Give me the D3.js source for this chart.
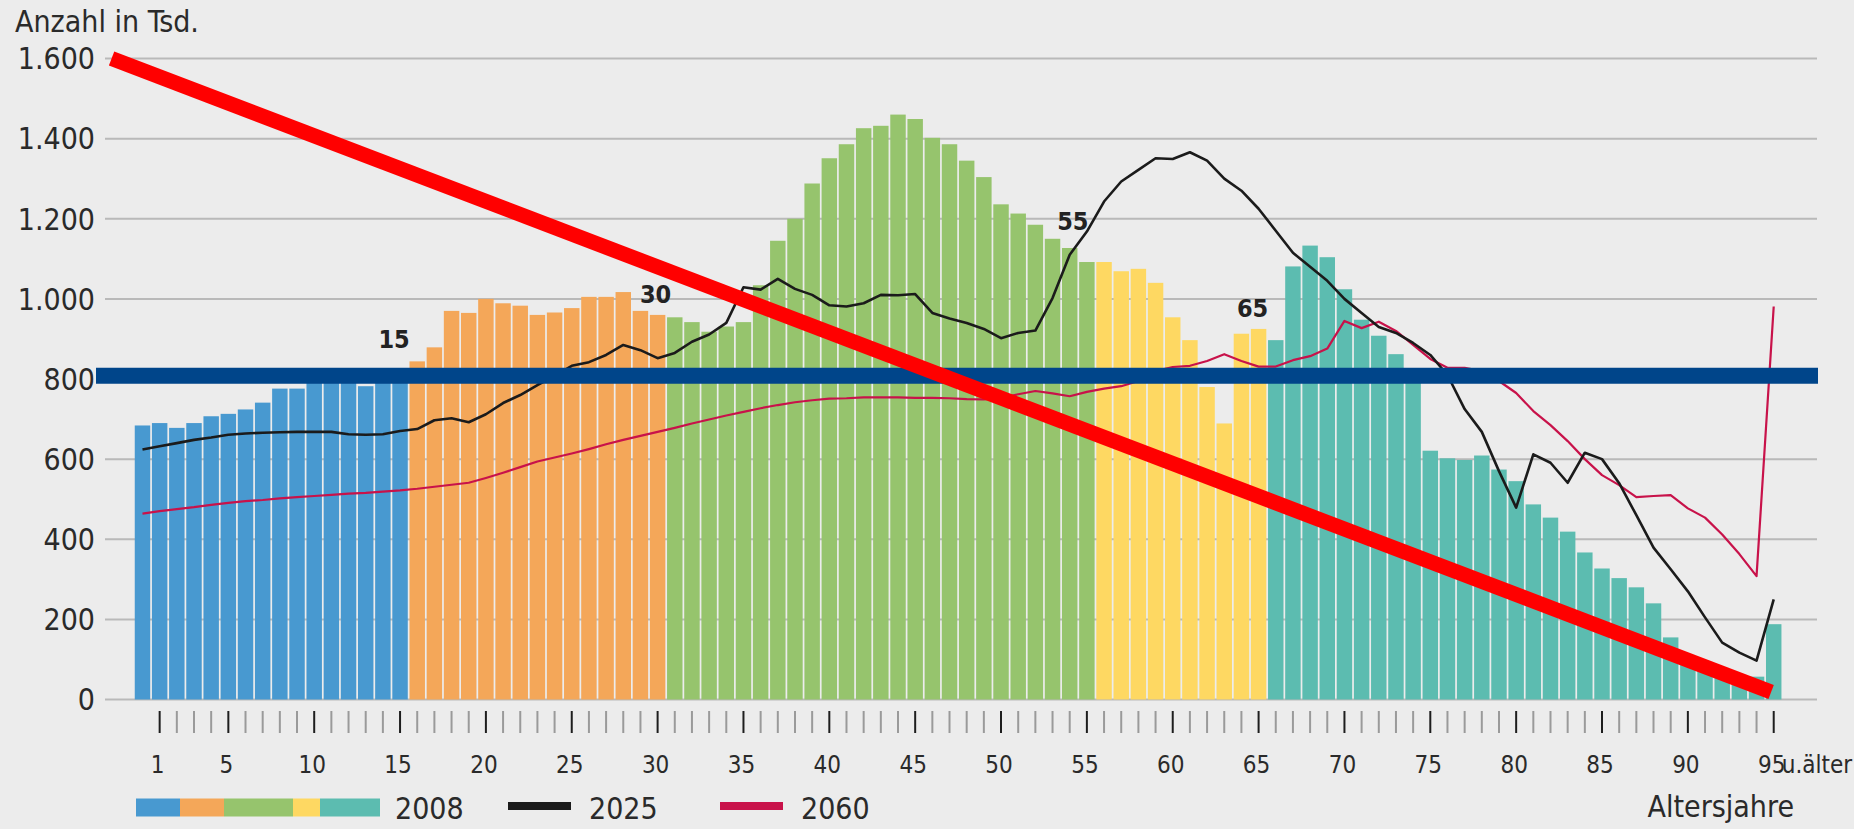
<!DOCTYPE html>
<html>
<head>
<meta charset="utf-8">
<script src="https://cdn.jsdelivr.net/npm/d3@7"></script>
<style>
    body { margin: 0; background: #ececec; }
    svg { display: block; font-family: "DejaVu Sans Condensed", "DejaVu Sans", sans-serif; }
</style>
</head>
<body>
<div id="main_view_panel"></div>
<script>
// age 0 .. 95 (95 = "95 u. älter")
const ages = d3.range(0, 96);

// population 2008 (bars), in thousands
const pop2008 = [684, 690, 678, 690, 707, 713, 724, 741, 776, 776,
    800, 805, 800, 782, 800, 800, 844, 879, 970, 965,
    1000, 989, 983, 960, 966, 977, 1005, 1005, 1017, 970,
    960, 954, 942, 918, 931, 942, 1034, 1145, 1200, 1288,
    1351, 1386, 1426, 1432, 1460, 1449, 1402, 1386, 1345, 1304,
    1236, 1213, 1185, 1150, 1127, 1092, 1092, 1069, 1075, 1040,
    954, 897, 780, 689, 913, 925, 897, 1081, 1133, 1104,
    1024, 948, 908, 862, 805, 621, 602, 598, 609, 574,
    545, 487, 454, 419, 367, 327, 303, 280, 240, 155,
    95, 80, 65, 52, 57, 188];

// projection 2025 (black line)
const pop2025 = [624, 632, 640, 648, 654, 661, 664, 666, 667, 668,
    668, 668, 662, 661, 662, 670, 675, 697, 702, 692,
    712, 740, 760, 785, 808, 833, 842, 860, 885, 872,
    852, 865, 893, 911, 940, 1029, 1023, 1050, 1025, 1010,
    984, 981, 989, 1010, 1009, 1012, 965, 951, 940, 925,
    902, 915, 921, 1002, 1110, 1168, 1243, 1293, 1322, 1351,
    1349, 1366, 1345, 1300, 1270, 1225, 1170, 1115, 1080, 1045,
    1000, 965, 930, 915, 890, 860, 810, 725, 668, 570,
    479, 612, 591, 541, 616, 600, 540, 460, 379, 325,
    270, 205, 142, 117, 97, 250];

// projection 2060 (red line)
const pop2060 = [464, 470, 475, 480, 486, 491, 495, 498, 502, 505,
    508, 511, 514, 516, 519, 522, 526, 531, 536, 541,
    553, 566, 580, 594, 604, 614, 625, 637, 648, 658,
    668, 678, 689, 699, 709, 718, 727, 735, 742, 747,
    751, 752, 754, 754, 754, 753, 753, 752, 750, 749,
    753, 762, 770, 764, 757, 768, 776, 782, 795, 820,
    830, 833, 845, 862, 845, 831, 831, 847, 857, 876,
    945, 927, 943, 920, 885, 850, 828, 828, 820, 795,
    765, 720, 685, 645, 600, 560, 535, 505, 508, 510,
    477, 454, 412, 363, 308, 981];

// age groups of the bars: last age of each group and its colour
const groupEnds = [15, 30, 55, 65, 95];
const groupColors = ["#4899d0", "#f4a759", "#96c46d", "#fed862", "#5cbcb0"];

const yTicks = [0, 200, 400, 600, 800, 1000, 1200, 1400, 1600];
const xLabelAges = [1, 5, 10, 15, 20, 25, 30, 35, 40, 45, 50, 55, 60, 65, 70, 75, 80, 85, 90, 95];

// group markers above the bars
const markerAges = [15, 30, 55, 65];
const markerValues = [877, 989, 1172, 956];
const markerShift = [-6, -2, -14, -6];

// overlay strokes
const blueLevel = 808;
const redStart = [-1.8, 1600];
const redEnd = [94.85, 19];

const width = 1854, height = 829;

const svg = d3.select('#main_view_panel')
    .append('svg')
    .attr('width', width)
    .attr('height', height);

svg.append('rect').attr('width', width).attr('height', height).attr('fill', '#ececec');

//scales
let x_band = d3.scaleBand().domain(ages).range([133.9, 1782.3]).paddingInner(0.1).paddingOuter(0.05);
let x_age = d3.scaleLinear().domain([0, 95]).range([x_band(0) + x_band.bandwidth() / 2, x_band(95) + x_band.bandwidth() / 2]);
let y_axis = d3.scaleLinear().domain([0, 1600]).range([699.5, 58.5]);

const de = d3.formatLocale({ decimal: ",", thousands: ".", grouping: [3], currency: ["", "€"] });
const fmt = de.format(",");

function groupColor(age) {
    for (let i = 0; i < groupEnds.length; i++) {
        if (age <= groupEnds[i]) return groupColors[i];
    }
    return groupColors[groupColors.length - 1];
}

//grid lines + y labels
svg.append('g')
    .selectAll('line')
    .data(yTicks)
    .enter()
    .append('line')
    .attr('x1', 105)
    .attr('x2', 1817)
    .attr('y1', d => y_axis(d))
    .attr('y2', d => y_axis(d))
    .style('stroke', '#b9b9b9')
    .style('stroke-width', 2);

svg.append('g')
    .selectAll('text')
    .data(yTicks)
    .enter()
    .append('text')
    .attr('x', 95)
    .attr('y', d => y_axis(d))
    .attr('dy', '0.36em')
    .attr('text-anchor', 'end')
    .style('font-size', '30px')
    .style('fill', '#2a2a2a')
    .text(d => fmt(d));

svg.append('text')
    .attr('x', 15)
    .attr('y', 32)
    .style('font-size', '30px')
    .style('fill', '#2a2a2a')
    .text('Anzahl in Tsd.');

//bars 2008
svg.append('g')
    .selectAll('rect')
    .data(ages)
    .enter()
    .append('rect')
    .attr('x', d => x_band(d))
    .attr('width', x_band.bandwidth())
    .attr('y', d => y_axis(pop2008[d]))
    .attr('height', d => y_axis(0) - y_axis(pop2008[d]))
    .style('fill', d => groupColor(d));

//lines 2025 / 2060
let line = d3.line().x((d, i) => x_age(ages[i])).y(d => y_axis(d));

svg.append('path')
    .attr('d', line(pop2060))
    .style('fill', 'none')
    .style('stroke', '#c8124a')
    .style('stroke-width', 2.2)
    .style('stroke-linejoin', 'round');

svg.append('path')
    .attr('d', line(pop2025))
    .style('fill', 'none')
    .style('stroke', '#1b1b1b')
    .style('stroke-width', 2.6)
    .style('stroke-linejoin', 'round');

//group markers
svg.append('g')
    .selectAll('text')
    .data(markerAges)
    .enter()
    .append('text')
    .attr('x', (d, i) => x_age(d) + markerShift[i])
    .attr('y', (d, i) => y_axis(markerValues[i]))
    .attr('text-anchor', 'middle')
    .style('font-size', '25px')
    .style('font-weight', 'bold')
    .style('fill', '#222')
    .text(d => d);

//x ticks: one per age from 1, black on the labelled ones
svg.append('g')
    .selectAll('line')
    .data(ages.slice(1))
    .enter()
    .append('line')
    .attr('x1', d => x_age(d))
    .attr('x2', d => x_age(d))
    .attr('y1', 711)
    .attr('y2', 733)
    .style('stroke', d => xLabelAges.includes(d) ? '#1e1e1e' : '#9a9a9a')
    .style('stroke-width', 2);

svg.append('g')
    .selectAll('text')
    .data(xLabelAges)
    .enter()
    .append('text')
    .attr('x', d => x_age(d) - 2)
    .attr('y', 773)
    .attr('text-anchor', 'middle')
    .style('font-size', '24px')
    .style('fill', '#2a2a2a')
    .text(d => d);

svg.append('text')
    .attr('x', x_age(95) + 8)
    .attr('y', 773)
    .style('font-size', '24px')
    .style('fill', '#2a2a2a')
    .text('u.älter');

svg.append('text')
    .attr('x', 1794)
    .attr('y', 817)
    .attr('text-anchor', 'end')
    .style('font-size', '30px')
    .style('fill', '#2a2a2a')
    .text('Altersjahre');

//legend
const swatchWidths = [44, 44, 69, 27, 60];
let sx = 136;
swatchWidths.forEach((w, i) => {
    svg.append('rect')
        .attr('x', sx).attr('y', 798.5)
        .attr('width', w).attr('height', 18)
        .style('fill', groupColors[i]);
    sx += w;
});

const legendItems = [
    { label: '2008', x: 395 },
    { label: '2025', x: 589, color: '#1b1b1b', lx: 508 },
    { label: '2060', x: 801, color: '#c8124a', lx: 720 }
];
legendItems.forEach(d => {
    if (d.color) {
        svg.append('line')
            .attr('x1', d.lx).attr('x2', d.lx + 63)
            .attr('y1', 806).attr('y2', 806)
            .style('stroke', d.color)
            .style('stroke-width', 8);
    }
    svg.append('text')
        .attr('x', d.x).attr('y', 819)
        .style('font-size', '30px')
        .style('fill', '#2a2a2a')
        .text(d.label);
});

//overlay strokes
svg.append('line')
    .attr('x1', 96).attr('x2', 1818)
    .attr('y1', y_axis(blueLevel)).attr('y2', y_axis(blueLevel))
    .style('stroke', '#00458a')
    .style('stroke-width', 16);

svg.append('line')
    .attr('x1', x_age(redStart[0])).attr('y1', y_axis(redStart[1]))
    .attr('x2', x_age(redEnd[0])).attr('y2', y_axis(redEnd[1]))
    .style('stroke', '#ff0000')
    .style('stroke-width', 15);
</script>
</body>
</html>
